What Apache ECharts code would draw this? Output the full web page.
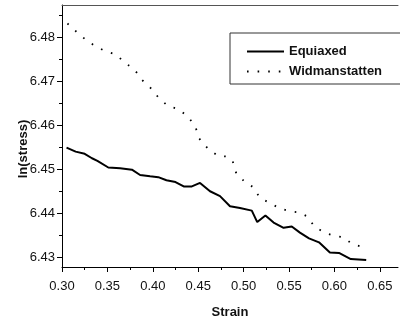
<!DOCTYPE html>
<html>
<head>
<meta charset="utf-8">
<script src="https://cdn.jsdelivr.net/npm/echarts@6/dist/echarts.min.js"></script>
<style>
  html, body { margin: 0; padding: 0; background: #fff; }
  #chart { width: 400px; height: 324px; }
</style>
</head>
<body>
<div id="chart"></div>
<script>
// strain vs ln(stress)
var equiStrain = [0.305, 0.315, 0.325, 0.333, 0.339, 0.351, 0.364, 0.377, 0.386, 0.397, 0.406,
  0.415, 0.425, 0.434, 0.443, 0.452, 0.463, 0.474, 0.485, 0.496, 0.509, 0.515, 0.524, 0.533,
  0.544, 0.553, 0.562, 0.572, 0.583, 0.595, 0.605, 0.618, 0.635]
var equiStress = [6.4549, 6.4540, 6.4535, 6.4525, 6.4519, 6.4504, 6.4502, 6.4499, 6.4487, 6.4484, 6.4482,
  6.4475, 6.4471, 6.4461, 6.4461, 6.4469, 6.4450, 6.4439, 6.4416, 6.4412, 6.4406, 6.4380, 6.4395, 6.4379,
  6.4367, 6.4370, 6.4356, 6.4343, 6.4334, 6.4311, 6.4310, 6.4296, 6.4294]

var widStrain = [0.306, 0.317, 0.328, 0.338, 0.349, 0.359, 0.370, 0.380, 0.388, 0.397, 0.407, 0.417,
  0.428, 0.439, 0.447, 0.451, 0.461, 0.472, 0.482, 0.488, 0.492, 0.501, 0.510, 0.518, 0.529, 0.540,
  0.550, 0.561, 0.570, 0.578, 0.589, 0.599, 0.609, 0.620, 0.630]
var widStress = [6.4831, 6.4810, 6.4791, 6.4778, 6.4767, 6.4761, 6.4741, 6.4726, 6.4703, 6.4686, 6.4661, 6.4643,
  6.4637, 6.4619, 6.4596, 6.4570, 6.4546, 6.4530, 6.4529, 6.4518, 6.4490, 6.4472, 6.4460, 6.4435, 6.4423, 6.4411,
  6.4405, 6.4402, 6.4393, 6.4370, 6.4356, 6.4349, 6.4346, 6.4330, 6.4324]

var xTicks = [0.30, 0.35, 0.40, 0.45, 0.50, 0.55, 0.60, 0.65]
var xMinorTicks = [0.325, 0.375, 0.425, 0.475, 0.525, 0.575, 0.625]
var yTicks = [6.43, 6.44, 6.45, 6.46, 6.47, 6.48]
var yMinorTicks = [6.435, 6.445, 6.455, 6.465, 6.475, 6.485]

var xMin = 0.30, xMax = 0.67
var yMin = 6.4278, yMax = 6.4873

function pairs(xs, ys) {
  var out = []
  xs.map(function (x, i) { out.push([x, ys[i]]) })
  return out
}

var font = "'Liberation Sans', Arial, sans-serif"
var chart = echarts.init(document.getElementById('chart'))

// hidden helper axes only carry the minor ticks / top border
function tickAxis(extra, pos, min, max, values, len) {
  var ax = {
    type: 'value', position: pos, min: min, max: max,
    axisLine: { show: false },
    axisLabel: { show: false },
    axisTick: { show: true, inside: false, length: len, customValues: values, lineStyle: { color: '#000', width: 1 } },
    splitLine: { show: false }
  }
  return Object.assign(ax, extra)
}

var option = {
  backgroundColor: '#ffffff',
  animation: false,
  grid: { left: 62, right: 2, top: 5, bottom: 54 },
  legend: {
    orient: 'vertical',
    left: 230,
    top: 33,
    padding: [12, 20, 6, 16],
    itemWidth: 37,
    itemHeight: 14,
    itemGap: 7,
    borderColor: '#333',
    borderWidth: 1,
    itemStyle: { opacity: 0 },
    textStyle: { fontFamily: font, fontSize: 13, fontWeight: 'bold', color: '#111' },
    data: ['Equiaxed', 'Widmanstatten']
  },
  xAxis: [
    {
      type: 'value', min: xMin, max: xMax,
      name: 'Strain', nameLocation: 'middle', nameGap: 39, nameMoveOverlap: false,
      nameTextStyle: { fontFamily: font, fontSize: 13, fontWeight: 'bold', color: '#111' },
      axisLine: { show: true, onZero: false, lineStyle: { color: '#000', width: 1 } },
      axisTick: { show: true, inside: false, length: 5, customValues: xTicks, lineStyle: { color: '#000' } },
      axisLabel: {
        customValues: xTicks, margin: 13,
        fontFamily: font, fontSize: 13, color: '#111',
        formatter: function (v) { return v.toFixed(2) }
      },
      splitLine: { show: false }
    },
    tickAxis({}, 'bottom', xMin, xMax, xMinorTicks, 3),
    // top border
    tickAxis({ axisLine: { show: true, onZero: false, lineStyle: { color: '#555', width: 1 } }, axisTick: { show: false } },
      'top', xMin, xMax, [], 0)
  ],
  yAxis: [
    {
      type: 'value', min: yMin, max: yMax,
      name: 'ln(stress)', nameLocation: 'middle', nameGap: 32, nameMoveOverlap: false,
      nameTextStyle: { fontFamily: font, fontSize: 13, fontWeight: 'bold', color: '#111', padding: [0, 26, 0, 0] },
      axisLine: { show: true, onZero: false, lineStyle: { color: '#000', width: 1 } },
      axisTick: { show: true, inside: false, length: 5, customValues: yTicks, lineStyle: { color: '#000' } },
      axisLabel: {
        customValues: yTicks, margin: 7,
        fontFamily: font, fontSize: 13, color: '#111',
        formatter: function (v) { return v.toFixed(2) }
      },
      splitLine: { show: false }
    },
    tickAxis({}, 'left', yMin, yMax, yMinorTicks, 3)
  ],
  series: [
    {
      name: 'Equiaxed',
      type: 'line',
      symbol: 'none',
      data: pairs(equiStrain, equiStress),
      lineStyle: { color: '#000', width: 2 },
      itemStyle: { color: '#000' }
    },
    {
      name: 'Widmanstatten',
      type: 'line',
      symbol: 'none',
      data: pairs(widStrain, widStress),
      lineStyle: { color: '#000', width: 1.8, type: [1.6, 9] },
      itemStyle: { color: '#000' }
    }
  ]
}
chart.setOption(option)
</script>
</body>
</html>
